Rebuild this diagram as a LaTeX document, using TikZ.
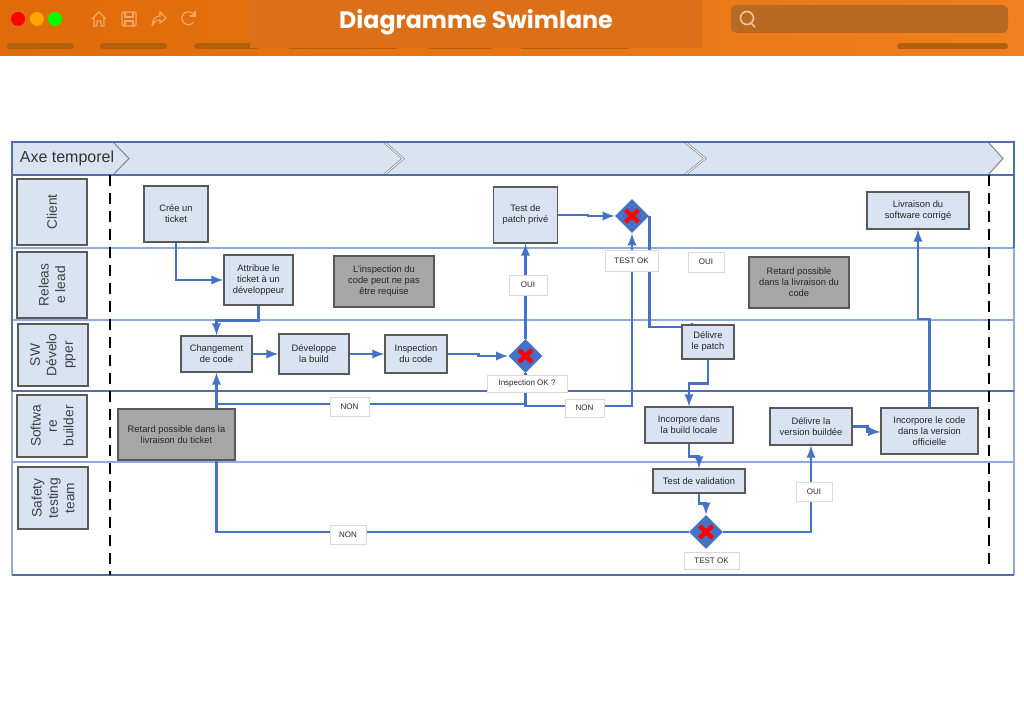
\documentclass[tikz,border=0pt]{standalone}
\usepackage{fontspec}
\setmainfont{Liberation Sans}
\newfontfamily\titlefont{Poppins}
\usetikzlibrary{shapes.geometric,backgrounds}
\definecolor{lanefill}{HTML}{D9E3F2}
\definecolor{flowblue}{HTML}{4472C4}
\definecolor{frameblue}{HTML}{4F6FA8}
\definecolor{sepblue}{HTML}{8FAADC}
\definecolor{pillbrown}{HTML}{B0610F}
\definecolor{iconorange}{HTML}{F2A868}
\definecolor{barleft}{HTML}{E06B08}
\definecolor{barright}{HTML}{EF801E}
\definecolor{titlepanel}{HTML}{DC7018}
\definecolor{searchbox}{HTML}{B86A22}
\tikzset{
    taskbox/.style 2 args={draw=black!65,line width=0.8pt,fill=lanefill,inner sep=0pt,align=center,
        font=\fontsize{7}{8.25}\selectfont,text=black!85,minimum width=#1*0.75pt,minimum height=#2*0.75pt},
    notebox/.style 2 args={taskbox={#1}{#2},fill=black!35},
    lanebox/.style 2 args={taskbox={#1}{#2},rotate=90,text=black!75,line width=0.8pt,
        font=\fontsize{10.3}{12.3}\selectfont},
    tagbox/.style 2 args={draw=black!15,line width=0.7pt,fill=white,inner sep=0pt,text=black!85,
        font=\fontsize{6}{7}\selectfont,minimum width=#1*0.75pt,minimum height=#2*0.75pt},
    decision/.style={diamond,aspect=1,fill=flowblue,inner sep=0pt,minimum width=25.5pt,minimum height=25.5pt},
    crossmark/.style={red,line width=3.4pt},
    flow/.style={flowblue,line width=2.1pt},
    flowarrow/.style={flow,->,>=latex},
    chevron/.style={draw=black!50,line width=0.7pt},
    doublechevron/.style={draw=black!50,double=white,double distance=0.7pt,line width=0.5pt},
    pill/.style={pillbrown,line width=4.5pt,line cap=round},
    icon/.style={iconorange,line width=0.9pt},
}
\begin{document}
\begin{tikzpicture}[x=0.75pt,y=-0.75pt]
    \useasboundingbox (0,0) rectangle (1024,712);
    % top bar
    \shade[left color=barleft,right color=barright] (0,0) rectangle (1024,56);
    \foreach \a/\b in {10/71,103/164,197/257,291/395,430/490,523/627,900/1005}
        \draw[pill] (\a,46.5) -- (\b,46.5);
    \fill[titlepanel] (250,0) rectangle (702,48);
    \fill[red] (18,19) circle (7);
    \fill[orange!70!yellow] (37,19) circle (7);
    \fill[green] (55,19) circle (7);
    \draw[icon] (92,19) -- (99,12) -- (106,19) (94,18) -- (94,26) -- (97,26) -- (97,21) -- (101,21) -- (101,26) -- (104,26) -- (104,18);
    \draw[icon,rounded corners=1pt] (122,12) rectangle (136,26);
    \draw[icon] (125,12) -- (125,17) -- (133,17) -- (133,12) (125,26) -- (125,21) -- (133,21) -- (133,26);
    \draw[icon] (152,26) .. controls (152,19) and (156,16) .. (160,16) -- (160,12) -- (166,18) -- (160,23) -- (160,20) .. controls (156,20) and (154,22) .. (152,26);
    \draw[icon] (194,15) arc (-30:-320:6.5);
    \draw[icon] (195,11) -- (195,16) -- (190,16);
    \fill[searchbox,rounded corners=4pt] (731,5) rectangle (1008,33);
    \draw[iconorange!70!white,line width=1.2pt] (747,18) circle (6.5) (751,23) -- (755,27);
    \node[text=white,font=\titlefont\bfseries\fontsize{17.8}{20}\selectfont] (title) at (476,22) {Diagramme Swimlane};

    % lanes
    \begin{scope}[on background layer]
        \fill[lanefill] (12,142) -- (113,142) -- (129,158.5) -- (113,175) -- (12,175) -- cycle;
        \fill[lanefill] (113,142) -- (384,142) -- (403,158.5) -- (384,175) -- (113,175) -- (129,158.5) -- cycle;
        \fill[lanefill] (384,142) -- (685,142) -- (705,158.5) -- (685,175) -- (384,175) -- (403,158.5) -- cycle;
        \fill[lanefill] (685,142) -- (988,142) -- (1003,158.5) -- (988,175) -- (685,175) -- (705,158.5) -- cycle;
        \draw[chevron] (113,142) -- (129,158.5) -- (113,175);
        \draw[doublechevron] (384,142) -- (403,158.5) -- (384,175);
        \draw[doublechevron] (685,142) -- (705,158.5) -- (685,175);
        \draw[chevron] (988,142) -- (1003,158.5) -- (988,175);
        \draw[sepblue,line width=0.8pt] (12,391) -- (12,575) (1014,248) -- (1014,575);
        \draw[sepblue,line width=0.9pt] (12,248) -- (1014,248) (12,320) -- (1014,320) (12,462) -- (1014,462);
        \draw[frameblue,line width=1.3pt] (12,391) -- (12,142) -- (1014,142) -- (1014,248);
        \draw[frameblue,line width=1.3pt] (12,175) -- (1014,175) (12,391) -- (1014,391);
        \draw[frameblue,line width=0.9pt] (12,575) -- (1014,575);
    \end{scope}
    \draw[black,line width=1.6pt,dash pattern=on 8.5pt off 5pt] (110,175) -- (110,575);
    \draw[black,line width=1.6pt,dash pattern=on 8.5pt off 5pt] (989,175) -- (989,570);

    \node[text=black!80,font=\fontsize{12}{14}\selectfont] (axis) at (67,158) {Axe temporel};
    \node[lanebox={66}{70}] (laneclient) at (52,212) {Client};
    \node[lanebox={66}{70}] (lanerelease) at (52,285) {Releas\\e lead};
    \node[lanebox={62}{70}] (lanedev) at (53,355) {SW\\Dévelo\\pper};
    \node[lanebox={62}{70}] (lanebuilder) at (52,426) {Softwa\\re\\builder};
    \node[lanebox={62}{70}] (lanesafety) at (53,498) {Safety\\testing\\team};

    % tasks
    \node[taskbox={64}{56}] (ticket) at (176,214) {Crée un\\ticket};
    \node[taskbox={69}{50}] (assign) at (258.5,280) {Attribue le\\ticket à un\\développeur};
    \node[taskbox={71}{36}] (change) at (216.5,354) {Changement\\de code};
    \node[taskbox={70}{40}] (build) at (314,354) {Développe\\la build};
    \node[taskbox={62}{38}] (inspect) at (416,354) {Inspection\\du code};
    \node[taskbox={64}{56}] (patchtest) at (525.5,215) {Test de\\patch privé};
    \node[taskbox={52}{34}] (patch) at (708,342) {Délivre\\le patch};
    \node[taskbox={102}{37}] (ship) at (918,210.5) {Livraison du\\software corrigé};
    \node[taskbox={88}{36}] (local) at (689,425) {Incorpore dans\\la build locale};
    \node[taskbox={82}{37}] (release) at (811,426.5) {Délivre la\\version buildée};
    \node[taskbox={97}{46}] (official) at (929.5,431) {Incorpore le code\\dans la version\\officielle};
    \node[taskbox={92}{24}] (validate) at (699,481) {Test de validation};

    % notes
    \node[notebox={117}{51}] (noteticket) at (176.5,434.5) {Retard possible dans la\\livraison du ticket};
    \node[notebox={100}{51}] (noteinspect) at (384,281.5) {L'inspection du\\code peut ne pas\\être requise};
    \node[notebox={100}{51}] (notecode) at (799,282.5) {Retard possible\\dans la livraison du\\code};

    % decisions
    \node[decision] (dinspect) at (525.5,356) {};
    \node[decision] (dpatch) at (632,216) {};
    \node[decision] (dvalid) at (706,532) {};
    \foreach \d in {dinspect,dpatch,dvalid}
        \draw[crossmark,shift={(\d)}] (-6.5,-6) -- (6.5,6) (-6.5,6) -- (6.5,-6);

    % tags
    \node[tagbox={38}{20}] (tagoui) at (528,285) {OUI};
    \node[tagbox={53}{21}] (tagtest) at (631.5,260.5) {TEST OK};
    \node[tagbox={36}{20}] (tagfree) at (706,262) {OUI};
    \node[tagbox={80}{17}] (taginspect) at (527,383.5) {Inspection OK ?};
    \node[tagbox={39}{19}] (tagnona) at (349.5,406.5) {NON};
    \node[tagbox={39}{18}] (tagnonb) at (584.5,408) {NON};
    \node[tagbox={36}{19}] (tagnonc) at (348,534.5) {NON};
    \node[tagbox={55}{17}] (tagvalid) at (711.5,560.5) {TEST OK};
    \node[tagbox={36}{19}] (tagouib) at (814,491.5) {OUI};

    % connectors
    \coordinate (jnon) at (216.5,404);
    \coordinate (jtest) at (632,406);
    \coordinate (jpatch) at (703,327);
    \coordinate (jlivr) at (929,319);
    \begin{scope}[on background layer]
        \draw[flowarrow] (ticket.south) |- (assign.west);
        \draw[flowarrow] (assign.south) -- ++(0,15) -| (change.north);
        \draw[flowarrow] (change.east) -- (build.west);
        \draw[flowarrow] (build.east) -- (inspect.west);
        \draw[flowarrow] (inspect.east) -- ++(31,0) |- (dinspect.west);
        \draw[flowarrow] (dinspect.north) -- (patchtest.south);
        \draw[flowarrow] (patchtest.east) -- ++(30,0) |- (dpatch.west);
        \draw[flow] (dinspect.south) |- (jnon);
        \draw[flowarrow] (dinspect.south) |- (jtest) -- (dpatch.south);
        \draw[flowarrow] (dvalid.west) -| (change.south);
        \draw[flowarrow] (dpatch.east) |- (jpatch);
        \draw[flowarrow] (patch.south) -- ++(0,24) -| (local.north);
        \draw[flowarrow] (local.south) -- ++(0,13) -| (validate.north);
        \draw[flowarrow] (validate.south) -- ++(0,10) -| (dvalid.north);
        \draw[flowarrow] (dvalid.east) -| (release.south);
        \draw[flowarrow] (release.east) -- ++(15,0) -- ++(0,5) -- (official.west |- 0,432);
        \draw[flowarrow] (official.north) |- (jlivr) -| (ship.south);
    \end{scope}
\end{tikzpicture}
\end{document}
